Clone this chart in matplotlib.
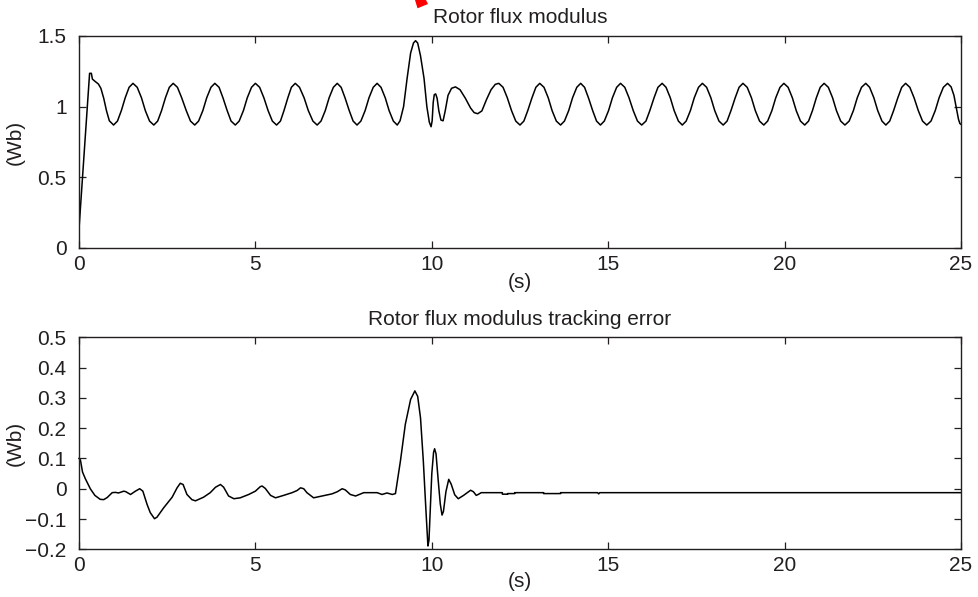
import matplotlib
matplotlib.use("Agg")
import matplotlib.pyplot as plt
from matplotlib.patches import Polygon

plt.rcParams['font.family'] = ['Liberation Sans', 'DejaVu Sans']

TXT = '#231f20'

# ---------------- data ----------------
x_ticks = [0, 5, 10, 15, 20, 25]
x_tick_labels = ['0', '5', '10', '15', '20', '25']

flux_y_ticks = [0, 0.5, 1, 1.5]
flux_y_tick_labels = ['0', '0.5', '1', '1.5']

err_y_ticks = [-0.2, -0.1, 0, 0.1, 0.2, 0.3, 0.4, 0.5]
err_y_tick_labels = ['\u22120.2', '\u22120.1', '0', '0.1', '0.2', '0.3', '0.4', '0.5']

flux_t = [
    0.00, 0.30, 0.35, 0.38, 0.45, 0.55, 0.62, 0.70, 0.78, 0.86, 0.98,
    1.09, 1.20, 1.31, 1.42, 1.53,
    1.65, 1.77, 1.88, 2.00, 2.12,
    2.23, 2.34, 2.45, 2.56, 2.67,
    2.79, 2.91, 3.04, 3.16, 3.28,
    3.39, 3.51, 3.62, 3.74, 3.85,
    3.97, 4.08, 4.20, 4.31, 4.43,
    4.54, 4.66, 4.77, 4.89, 5.00,
    5.12, 5.24, 5.36, 5.48, 5.60,
    5.71, 5.81, 5.92, 6.02, 6.13,
    6.25, 6.38, 6.50, 6.63, 6.75,
    6.86, 6.98, 7.09, 7.21, 7.32,
    7.43, 7.54, 7.66, 7.77, 7.88,
    7.99, 8.11, 8.22, 8.34, 8.45,
    8.56, 8.68, 8.79, 8.91, 9.02,
    9.10, 9.20, 9.30, 9.40, 9.48, 9.54, 9.60, 9.68, 9.78, 9.86, 9.93, 9.98,
    10.01, 10.04, 10.07, 10.11, 10.15, 10.20, 10.26, 10.32, 10.38, 10.46,
    10.56, 10.67, 10.80, 10.95, 11.10, 11.20, 11.30, 11.42, 11.55, 11.68, 11.80, 11.90,
    12.02, 12.14, 12.26, 12.38, 12.50,
    12.61, 12.72, 12.84, 12.95, 13.06,
    13.18, 13.30, 13.41, 13.53, 13.65,
    13.76, 13.88, 13.99, 14.11, 14.22,
    14.33, 14.44, 14.56, 14.67, 14.78,
    14.89, 15.01, 15.12, 15.24, 15.35,
    15.47, 15.59, 15.71, 15.83, 15.95,
    16.07, 16.18, 16.30, 16.41, 16.53,
    16.64, 16.76, 16.87, 16.99, 17.10,
    17.21, 17.33, 17.44, 17.56, 17.67,
    17.79, 17.91, 18.02, 18.14, 18.26,
    18.37, 18.48, 18.60, 18.71, 18.82,
    18.94, 19.06, 19.17, 19.29, 19.41,
    19.52, 19.64, 19.75, 19.87, 19.98,
    20.10, 20.22, 20.33, 20.45, 20.57,
    20.68, 20.79, 20.90, 21.01, 21.12,
    21.24, 21.36, 21.47, 21.59, 21.71,
    21.83, 21.95, 22.06, 22.18, 22.30,
    22.41, 22.53, 22.64, 22.76, 22.87,
    22.98, 23.09, 23.21, 23.32, 23.43,
    23.55, 23.67, 23.79, 23.91, 24.03,
    24.15, 24.27, 24.38, 24.50, 24.62,
    24.72, 24.80, 24.87, 24.93, 24.97, 25.00,
]

flux_v = [
    0.135, 1.236, 1.236, 1.195, 1.180, 1.160, 1.130, 1.060, 0.970, 0.900, 0.870,
    0.898, 0.972, 1.063, 1.137, 1.165,
    1.137, 1.063, 0.972, 0.898, 0.870,
    0.898, 0.972, 1.063, 1.137, 1.165,
    1.137, 1.063, 0.972, 0.898, 0.870,
    0.898, 0.972, 1.063, 1.137, 1.165,
    1.137, 1.063, 0.972, 0.898, 0.870,
    0.898, 0.972, 1.063, 1.137, 1.165,
    1.137, 1.063, 0.972, 0.898, 0.870,
    0.898, 0.972, 1.063, 1.137, 1.165,
    1.137, 1.063, 0.972, 0.898, 0.870,
    0.898, 0.972, 1.063, 1.137, 1.165,
    1.137, 1.063, 0.972, 0.898, 0.870,
    0.898, 0.972, 1.063, 1.137, 1.165,
    1.137, 1.063, 0.972, 0.898, 0.870,
    0.900, 1.000, 1.200, 1.380, 1.450, 1.467, 1.450, 1.360, 1.200, 1.000, 0.890, 0.858,
    0.900, 1.030, 1.085, 1.090, 1.060, 0.970, 0.905, 0.900, 0.970, 1.080,
    1.130, 1.140, 1.120, 1.060, 0.990, 0.958, 0.950, 0.970, 1.050, 1.120, 1.158, 1.165,
    1.137, 1.063, 0.972, 0.898, 0.870,
    0.898, 0.972, 1.063, 1.137, 1.165,
    1.137, 1.063, 0.972, 0.898, 0.870,
    0.898, 0.972, 1.063, 1.137, 1.165,
    1.137, 1.063, 0.972, 0.898, 0.870,
    0.898, 0.972, 1.063, 1.137, 1.165,
    1.137, 1.063, 0.972, 0.898, 0.870,
    0.898, 0.972, 1.063, 1.137, 1.165,
    1.137, 1.063, 0.972, 0.898, 0.870,
    0.898, 0.972, 1.063, 1.137, 1.165,
    1.137, 1.063, 0.972, 0.898, 0.870,
    0.898, 0.972, 1.063, 1.137, 1.165,
    1.137, 1.063, 0.972, 0.898, 0.870,
    0.898, 0.972, 1.063, 1.137, 1.165,
    1.137, 1.063, 0.972, 0.898, 0.870,
    0.898, 0.972, 1.063, 1.137, 1.165,
    1.137, 1.063, 0.972, 0.898, 0.870,
    0.898, 0.972, 1.063, 1.137, 1.165,
    1.137, 1.063, 0.972, 0.898, 0.870,
    0.898, 0.972, 1.063, 1.137, 1.165,
    1.137, 1.063, 0.972, 0.898, 0.870,
    0.898, 0.972, 1.063, 1.137, 1.165,
    1.140, 1.080, 0.990, 0.910, 0.880, 0.875,
]

err_t = [
    0.00, 0.04, 0.10, 0.18, 0.32, 0.45, 0.60, 0.70, 0.80, 0.94, 1.03, 1.12,
    1.27, 1.33, 1.46, 1.60, 1.72, 1.81, 1.93, 2.02, 2.14, 2.21, 2.40, 2.64,
    2.78, 2.87, 2.95, 3.06, 3.20, 3.30, 3.53, 3.72, 3.87, 4.01, 4.10, 4.24,
    4.39, 4.57, 4.81, 5.00, 5.14, 5.19, 5.28, 5.43, 5.57, 5.80, 6.04, 6.18,
    6.28, 6.37, 6.46, 6.65, 6.89, 7.17, 7.32, 7.46, 7.55, 7.69, 7.84, 8.07,
    8.45, 8.59, 8.73, 8.88, 8.97,
    9.03, 9.11, 9.25, 9.40, 9.52, 9.60, 9.68, 9.76, 9.83, 9.89, 9.92, 9.96,
    10.00, 10.05, 10.08, 10.12, 10.18, 10.24, 10.29, 10.33, 10.40, 10.48,
    10.55, 10.65, 10.75, 10.90, 11.10, 11.18, 11.26, 11.33, 11.40,
    12.00, 12.00, 12.15, 12.15, 12.35, 12.35,
    13.17, 13.17, 13.65, 13.65,
    14.70, 14.73, 14.76, 25.00,
]

err_v = [
    0.100, 0.095, 0.055, 0.033, 0.000, -0.022, -0.035, -0.036, -0.029, -0.013, -0.012, -0.014,
    -0.008, -0.010, -0.019, -0.008, 0.000, -0.008, -0.052, -0.079, -0.099, -0.094, -0.063, -0.028,
    0.003, 0.018, 0.014, -0.019, -0.036, -0.040, -0.028, -0.013, 0.005, 0.014, 0.005, -0.024,
    -0.033, -0.030, -0.019, -0.008, 0.007, 0.009, 0.001, -0.022, -0.030, -0.022, -0.013, -0.006,
    0.003, 0.000, -0.013, -0.030, -0.024, -0.017, -0.010, 0.000, -0.004, -0.019, -0.024, -0.013,
    -0.013, -0.019, -0.014, -0.019, -0.016,
    0.030, 0.091, 0.213, 0.295, 0.323, 0.305, 0.234, 0.091, -0.063, -0.189, -0.170, -0.060,
    0.050, 0.120, 0.132, 0.115, 0.030, -0.050, -0.087, -0.075, -0.010, 0.031,
    0.015, -0.020, -0.033, -0.022, -0.005, -0.010, -0.022, -0.018, -0.013,
    -0.013, -0.018, -0.018, -0.016, -0.016, -0.013,
    -0.013, -0.016, -0.016, -0.013,
    -0.013, -0.017, -0.013, -0.013,
]

# ---------------- figure ----------------
fig = plt.figure(figsize=(9.79, 5.97), dpi=100)
ax1 = fig.add_axes([0.0807, 0.5846, 0.9009, 0.3551])
ax2 = fig.add_axes([0.0807, 0.0799, 0.9009, 0.3551])

FS = 15

def style(ax, yticks, ylabels, ylim):
    ax.set_xlim(0, 25)
    ax.set_ylim(*ylim)
    ax.set_xticks(x_ticks)
    ax.set_xticklabels(x_tick_labels)
    ax.set_yticks(yticks)
    ax.set_yticklabels(ylabels)
    ax.tick_params(axis='both', direction='in', top=True, right=True,
                   length=5, width=0.9, labelsize=FS, colors=TXT)
    ax.tick_params(axis='x', pad=5)
    ax.tick_params(axis='y', pad=9)
    for s in ax.spines.values():
        s.set_linewidth(1.0)
        s.set_color(TXT)

ax1.plot(flux_t, flux_v, color='black', lw=1.1)
style(ax1, flux_y_ticks, flux_y_tick_labels, (0, 1.5))
ax1.set_title('Rotor flux modulus', fontsize=FS, color=TXT, pad=9)
ax1.set_xlabel('(s)', fontsize=FS, color=TXT, va='center')
ax1.xaxis.set_label_coords(0.5, -0.165)
ax1.set_ylabel('(Wb)', fontsize=FS, color=TXT, va='center')
ax1.yaxis.set_label_coords(-0.0726, 0.5)

ax2.plot(err_t, err_v, color='black', lw=1.1, clip_on=False)
style(ax2, err_y_ticks, err_y_tick_labels, (-0.2, 0.5))
ax2.set_title('Rotor flux modulus tracking error', fontsize=FS, color=TXT, pad=9)
ax2.set_xlabel('(s)', fontsize=FS, color=TXT, va='center')
ax2.xaxis.set_label_coords(0.5, -0.153)
ax2.set_ylabel('(Wb)', fontsize=FS, color=TXT, va='center')
ax2.yaxis.set_label_coords(-0.0726, 0.5)

# small red mark at the top edge of the reference image
W, H = 979.0, 597.0
pts = [(415 / W, 1.0), (426 / W, 1.0), (428 / W, 1 - 4 / H), (417.5 / W, 1 - 8.3 / H)]
fig.patches.append(Polygon(pts, closed=True, transform=fig.transFigure,
                           facecolor='#ff0000', edgecolor='none'))

fig.savefig('out.png', dpi=100)
